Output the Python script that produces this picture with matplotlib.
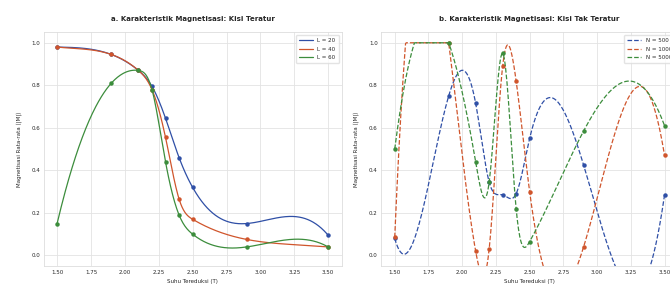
import numpy as np
import matplotlib
matplotlib.use("Agg")
import matplotlib.pyplot as plt
import seaborn as sns

sns.set_style("whitegrid")
plt.rcParams["font.family"] = ["DejaVu Sans"]

# suhu (sama untuk kedua panel)
temps = [1.5, 1.9, 2.1, 2.2, 2.3, 2.4, 2.5, 2.9, 3.5]

# a. kisi teratur
reg_labels = ["L = 20", "L = 40", "L = 60"]
reg_l20 = [0.98, 0.945, 0.87, 0.795, 0.645, 0.46, 0.32, 0.15, 0.095]
reg_l40 = [0.98, 0.945, 0.87, 0.78, 0.555, 0.265, 0.17, 0.075, 0.04]
reg_l60 = [0.15, 0.81, 0.87, 0.78, 0.44, 0.19, 0.10, 0.04, 0.04]

# b. kisi tak teratur
irr_labels = ["N = 500", "N = 1000", "N = 5000"]
irr_n500 = [0.08, 0.75, 0.715, 0.345, 0.285, 0.29, 0.55, 0.425, 0.285]
irr_n1000 = [0.085, 1.0, 0.02, 0.03, 0.89, 0.82, 0.30, 0.04, 0.47]
irr_n5000 = [0.50, 1.0, 0.44, 0.345, 0.95, 0.22, 0.065, 0.585, 0.61]

colors = ["#2f4fa6", "#d0552c", "#3c8d3c"]


def smooth(x, y, num=400):
    """cubic spline (not-a-knot) through the points, for drawing"""
    x = np.asarray(x, float)
    y = np.asarray(y, float)
    m = len(x) - 1
    h = np.diff(x)
    A = np.zeros((4 * m, 4 * m))
    b = np.zeros(4 * m)
    r = 0
    for i in range(m):
        A[r, 4 * i] = 1
        b[r] = y[i]
        r += 1
        A[r, 4 * i:4 * i + 4] = [1, h[i], h[i] ** 2, h[i] ** 3]
        b[r] = y[i + 1]
        r += 1
    for i in range(m - 1):
        A[r, 4 * i:4 * i + 4] = [0, 1, 2 * h[i], 3 * h[i] ** 2]
        A[r, 4 * (i + 1) + 1] = -1
        r += 1
        A[r, 4 * i:4 * i + 4] = [0, 0, 2, 6 * h[i]]
        A[r, 4 * (i + 1) + 2] = -2
        r += 1
    A[r, 3] = 1
    A[r, 7] = -1
    r += 1
    A[r, 4 * (m - 2) + 3] = 1
    A[r, 4 * (m - 1) + 3] = -1
    coef = np.linalg.solve(A, b).reshape(m, 4)
    xs = np.linspace(x[0], x[-1], num)
    idx = np.clip(np.searchsorted(x, xs, side="right") - 1, 0, m - 1)
    t = xs - x[idx]
    c = coef[idx]
    ys = c[:, 0] + c[:, 1] * t + c[:, 2] * t ** 2 + c[:, 3] * t ** 3
    return xs, ys


fig = plt.figure(figsize=(6.7, 2.87), dpi=100)
ax1 = fig.add_axes([0.065, 0.073, 0.445, 0.815])
ax2 = fig.add_axes([0.569, 0.073, 0.443, 0.815])

for ax, series, labels, ls, title in [
    (ax1, [reg_l20, reg_l40, reg_l60], reg_labels, "-",
     "a. Karakteristik Magnetisasi: Kisi Teratur"),
    (ax2, [irr_n500, irr_n1000, irr_n5000], irr_labels, "--",
     "b. Karakteristik Magnetisasi: Kisi Tak Teratur"),
]:
    for ys, lab, col in zip(series, labels, colors):
        xs, yy = smooth(temps, ys)
        yy = np.minimum(yy, 1.0)
        ax.plot(xs, yy, ls, color=col, lw=0.9, label=lab)
        ax.plot(temps, ys, "o", color=col, ms=2.2, mec=col)
    ax.set_xlim(1.4, 3.6)
    ax.set_ylim(-0.05, 1.05)
    ax.set_xticks([1.5, 1.75, 2.0, 2.25, 2.5, 2.75, 3.0, 3.25, 3.5])
    ax.set_yticks([0.0, 0.2, 0.4, 0.6, 0.8, 1.0])
    ax.xaxis.set_major_formatter(matplotlib.ticker.FormatStrFormatter("%.2f"))
    ax.yaxis.set_major_formatter(matplotlib.ticker.FormatStrFormatter("%.1f"))
    ax.tick_params(labelsize=4, pad=2.5, length=0)
    ax.grid(True, color="#e3e3e3", lw=0.6)
    for s in ax.spines.values():
        s.set_color("#dddddd")
        s.set_linewidth(0.6)
    ax.set_title(title, fontsize=5, fontweight="bold", pad=8)
    ax.set_xlabel("Suhu Tereduksi (T)", fontsize=4, labelpad=3)
    ax.set_ylabel("Magnetisasi Rata-rata ⟨|M|⟩", fontsize=4, labelpad=7)
    ax.legend(loc="upper right", fontsize=4, frameon=True, handlelength=2.5,
              borderpad=0.6, labelspacing=0.6, edgecolor="#dddddd")

fig.savefig("out.png", dpi=100)
